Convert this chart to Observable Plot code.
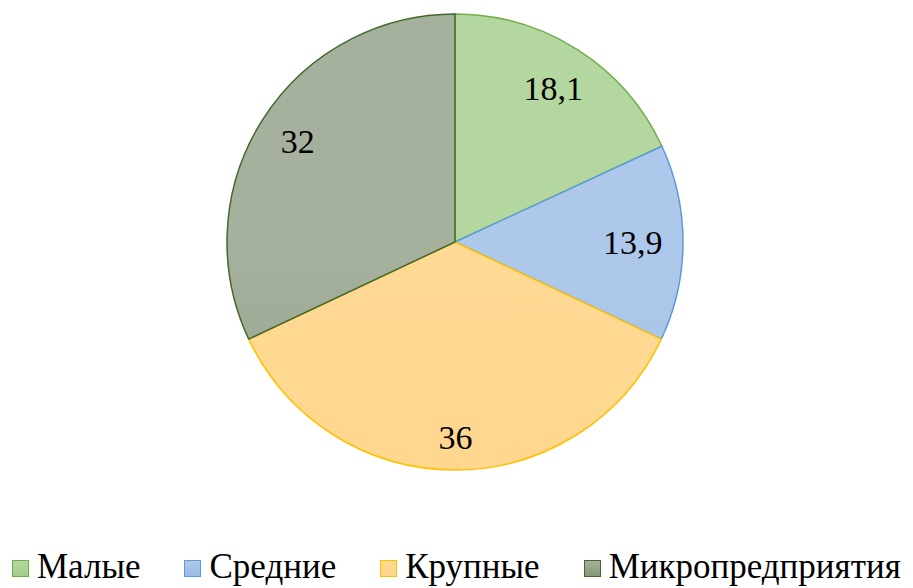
<!DOCTYPE html>
<html><head><meta charset="utf-8">
<script src="https://cdn.jsdelivr.net/npm/d3@7"></script>
<script src="https://cdn.jsdelivr.net/npm/@observablehq/plot@0.6"></script>
<style>
body{margin:0;background:#fff;}
#legend{display:flex;align-items:center;font-family:"Liberation Serif";font-size:35px;line-height:40px;color:#000;padding-left:12px;margin-top:7px;white-space:nowrap;}
#legend .item{display:flex;align-items:center;margin-right:44px;}
#legend .sw{width:15px;height:15px;border:1.5px solid;margin-right:8px;box-sizing:content-box;position:relative;top:1px;}
</style></head><body><div id="chart"></div><script>
// Data
const categories = ["Малые", "Средние", "Крупные", "Микропредприятия"];
const values = [18.1, 13.9, 36, 32];
const valueLabels = ["18,1", "13,9", "36", "32"];

// Styles
const fillTop = ["#b4d79f", "#adc8ea", "#ffda94", "#a5b09d"];
const fillBottom = ["#a5cd8b", "#9bbce5", "#ffd389", "#859878"];
const strokes = ["#70ad47", "#5b9bd5", "#ffc000", "#43682b"];

const W = 913, H = 540, mL = 227, mR = 230, mT = 14, mB = 70;
const FS = 34;
const R_PX = (W - mL - mR) / 2;

const data = categories.map((c, i) => ({category: c, value: values[i], label: valueLabels[i], i}));
const arcs = d3.pie().sort(null).value(d => d.value)(data);
// Excel-like "inside end" label placement: keep label box a fixed gap from the rim
const labelData = arcs.map(a => {
  const mid = (a.startAngle + a.endAngle) / 2;
  const s = Math.sin(mid), c = Math.cos(mid);
  const w = [...a.data.label].reduce((t, ch) => t + (ch === "," ? 0.25 : 0.5), 0) * FS;
  const h = 22;
  const off = 21 + Math.abs(s) * w / 2 + Math.abs(c) * h / 2;
  const k = (R_PX - off) / R_PX;
  return {label: a.data.label, x: s * k, y: c * k};
});

function pieMark(index, scales) {
  const g = d3.create("svg:g");
  const cx = scales.x(0), cy = scales.y(0), r = scales.x(1) - scales.x(0);
  const defs = g.append("defs");
  arcs.forEach((a, i) => {
    const lg = defs.append("linearGradient").attr("id", "grad" + i)
      .attr("gradientUnits", "userSpaceOnUse")
      .attr("x1", 0).attr("x2", 0).attr("y1", cy - r).attr("y2", cy + r);
    lg.append("stop").attr("offset", "0%").attr("stop-color", fillTop[i]);
    lg.append("stop").attr("offset", "100%").attr("stop-color", fillBottom[i]);
  });
  const arcGen = d3.arc().innerRadius(0).outerRadius(r);
  g.selectAll("path").data(arcs).join("path")
    .attr("transform", `translate(${cx},${cy})`)
    .attr("d", arcGen)
    .attr("fill", (d, i) => `url(#grad${i})`)
    .attr("stroke", (d, i) => strokes[i])
    .attr("stroke-width", 1.5)
    .attr("stroke-linejoin", "round");
  return g.node();
}

const chart = Plot.plot({
  width: W,
  height: H,
  marginLeft: mL,
  marginRight: mR,
  marginTop: mT,
  marginBottom: mB,
  x: {domain: [-1, 1], axis: null},
  y: {domain: [-1, 1], axis: null},
  marks: [
    pieMark,
    Plot.text(labelData, {x: "x", y: "y", text: "label", fontSize: FS, fontFamily: "Liberation Serif", fill: "#000"})
  ]
});
document.getElementById("chart").appendChild(chart);

const legend = d3.select("body").append("div").attr("id", "legend");
categories.forEach((c, i) => {
  const it = legend.append("div").attr("class", "item");
  it.append("div").attr("class", "sw")
    .style("border-color", strokes[i])
    .style("background", `linear-gradient(${fillTop[i]}, ${fillBottom[i]})`);
  it.append("span").text(c);
});
</script></body></html>
